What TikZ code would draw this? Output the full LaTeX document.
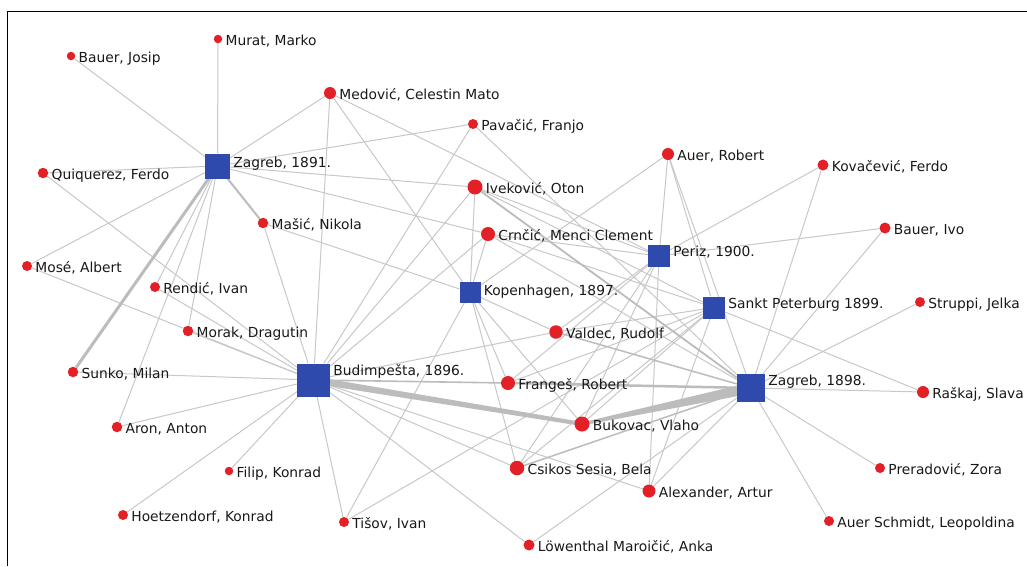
\documentclass[tikz,border=0pt]{standalone}
\usepackage{fontspec}
\setmainfont{DejaVu Sans}
\usetikzlibrary{backgrounds,calc}
\definecolor{dotred}{RGB}{226,32,38}
\definecolor{sqblue}{RGB}{46,74,172}
\definecolor{edgegray}{RGB}{200,200,200}
\definecolor{edgedark}{RGB}{188,188,188}
\definecolor{txt}{RGB}{25,25,25}
\tikzset{
  pd/.style={circle,fill=dotred,inner sep=0pt,minimum size=#1},
  pd/.default=10pt,
  sq/.style={rectangle,fill=sqblue,inner sep=0pt,minimum size=#1},
  lbl/.style={anchor=base west,inner sep=0pt,text=txt,font=\fontsize{13.8}{16}\selectfont},
  ed/.style={draw=edgegray,line width=1pt},
  edthick/.style={draw=edgedark,line width=#1},
  wedge/.style={fill=edgedark},
}
\begin{document}
\begin{tikzpicture}[x=1pt,y=-1pt]
\useasboundingbox (0,0) rectangle (1027,566);
% exhibitions
\node[sq=25pt] (zg91) at (217.5,166) {};
\node[sq=33pt] (bud) at (313.5,380) {};
\node[sq=21pt] (kop) at (470,292.5) {};
\node[sq=22pt] (spb) at (714,307.5) {};
\node[sq=22pt] (par) at (659,256) {};
\node[sq=28pt] (zg98) at (751,388) {};
% persons
\node[pd=8.5pt] (josip) at (71,56) {};
\node[pd=8.5pt] (murat) at (218,39) {};
\node[pd=12pt] (medovic) at (330,93) {};
\node[pd=10pt] (pavacic) at (473,124) {};
\node[pd=10.5pt] (quiq) at (43,173) {};
\node[pd=12pt] (auerr) at (668,154) {};
\node[pd=11pt] (kovac) at (823,165) {};
\node[pd=15pt] (ivek) at (475,187) {};
\node[pd=10.5pt] (masic) at (263,223) {};
\node[pd=14pt] (crncic) at (488,234) {};
\node[pd=11pt] (ivo) at (885,228) {};
\node[pd=10pt] (mose) at (27,266) {};
\node[pd=10pt] (rendic) at (155,287) {};
\node[pd=13.5pt] (valdec) at (556,332) {};
\node[pd=10.5pt] (morak) at (188,331) {};
\node[pd=10.5pt] (sunko) at (73,372) {};
\node[pd=10pt] (struppi) at (920,302) {};
\node[pd=14pt] (frang) at (508,383) {};
\node[pd=12pt] (raskaj) at (923,392) {};
\node[pd=15pt] (bukovac) at (582,424) {};
\node[pd=10.5pt] (aron) at (117,427) {};
\node[pd=8.5pt] (filip) at (229,471) {};
\node[pd=14.5pt] (csikos) at (517,468) {};
\node[pd=10pt] (prerad) at (880,468) {};
\node[pd=13pt] (alex) at (649,491) {};
\node[pd=10pt] (hoetz) at (123,515) {};
\node[pd=10pt] (tisov) at (344,522) {};
\node[pd=10pt] (auers) at (829,521) {};
\node[pd=11pt] (lowen) at (529,545) {};
% labels of exhibitions
\node[lbl] (zg91-t) at ($(zg91.north east)+(3,14)$) {Zagreb, 1891.};
\node[lbl] (bud-t) at ($(bud.north east)+(3,12)$) {Budimpešta, 1896.};
\node[lbl] (kop-t) at ($(kop.north east)+(3,13.5)$) {Kopenhagen, 1897.};
\node[lbl] (spb-t) at ($(spb.north east)+(3,12)$) {Sankt Peterburg 1899.};
\node[lbl] (par-t) at ($(par.north east)+(3,12)$) {Periz, 1900.};
\node[lbl] (zg98-t) at ($(zg98.north east)+(3,12)$) {Zagreb, 1898.};
% labels of persons
\foreach \n/\t in {josip/{Bauer, Josip},murat/{Murat, Marko},medovic/{Medović, Celestin Mato},
  pavacic/{Pavačić, Franjo},quiq/{Quiquerez, Ferdo},auerr/{Auer, Robert},kovac/{Kovačević, Ferdo},
  ivek/{Iveković, Oton},masic/{Mašić, Nikola},crncic/{Crnčić, Menci Clement},ivo/{Bauer, Ivo},
  mose/{Mosé, Albert},rendic/{Rendić, Ivan},valdec/{Valdec, Rudolf},morak/{Morak, Dragutin},
  sunko/{Sunko, Milan},struppi/{Struppi, Jelka},frang/{Frangeš, Robert},raskaj/{Raškaj, Slava},
  bukovac/{Bukovac, Vlaho},aron/{Aron, Anton},filip/{Filip, Konrad},csikos/{Csikos Sesia, Bela},
  prerad/{Preradović, Zora},alex/{Alexander, Artur},hoetz/{Hoetzendorf, Konrad},tisov/{Tišov, Ivan},
  auers/{Auer Schmidt, Leopoldina},lowen/{Löwenthal Maroičić, Anka}}
  {\node[lbl] (\n-t) at ($(\n.east)+(3,6.5)$) {\t};}
\begin{pgfonlayer}{background}
\fill[white] (0,0) rectangle (1027,566);
\foreach \p in {josip,murat,medovic,pavacic,quiq,ivek,crncic,mose,rendic,morak,aron}
  \draw[ed] (zg91) -- (\p);
\foreach \p in {medovic,pavacic,quiq,mose,rendic,morak,sunko,masic,aron,filip,hoetz,tisov,lowen,csikos,alex,valdec,crncic,ivek}
  \draw[ed] (bud) -- (\p);
\foreach \p in {medovic,masic,ivek,crncic,valdec,frang,bukovac,csikos,tisov,auerr}
  \draw[ed] (kop) -- (\p);
\foreach \p in {medovic,ivek,crncic,auerr,kovac,ivo,valdec,frang,bukovac,csikos,alex}
  \draw[ed] (par) -- (\p);
\foreach \p in {ivek,crncic,auerr,raskaj,valdec,frang,bukovac,csikos,alex,tisov}
  \draw[ed] (spb) -- (\p);
\foreach \p in {pavacic,crncic,auerr,kovac,ivo,struppi,raskaj,prerad,auers,alex,lowen}
  \draw[ed] (zg98) -- (\p);
\draw[edthick=3pt] (zg91) -- (sunko);
\draw[edthick=2pt] (zg91) -- (masic);
\draw[edthick=1.6pt] (bud) -- (frang);
\fill[wedge] ($(bukovac)!2pt!90:(bud)$) -- ($(bud)!3.5pt!-90:(bukovac)$)
  -- ($(bud)!3.5pt!90:(bukovac)$) -- ($(bukovac)!2pt!-90:(bud)$) -- cycle;
\fill[wedge] ($(bukovac)!1.5pt!90:(zg98)$) -- ($(zg98)!5.5pt!-90:(bukovac)$)
  -- ($(zg98)!5.5pt!90:(bukovac)$) -- ($(bukovac)!1.5pt!-90:(zg98)$) -- cycle;
\draw[edthick=2.5pt] (zg98) -- (frang);
\draw[edthick=1.8pt] (zg98) -- (ivek);
\draw[edthick=1.5pt] (zg98) -- (csikos);
\draw[edthick=1.5pt] (zg98) -- (valdec);
\end{pgfonlayer}
% frame
\draw[line width=1.2pt] (7.5,566) -- (7.5,11.5) -- (1027,11.5);
\end{tikzpicture}
\end{document}
